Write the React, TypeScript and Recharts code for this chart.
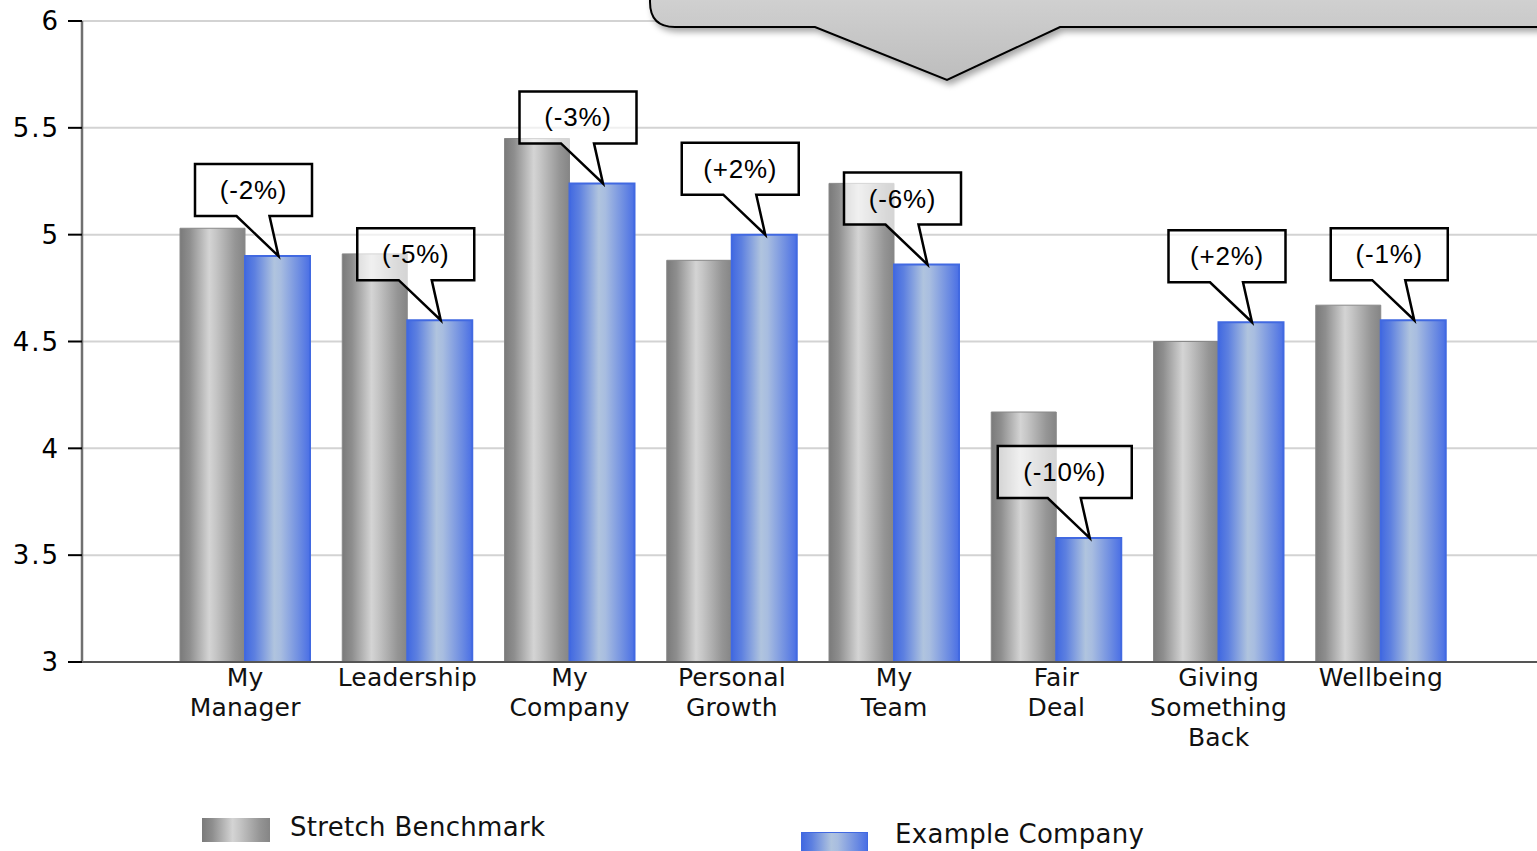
import React from 'react';
import { BarChart, Bar, XAxis, YAxis, CartesianGrid, LabelList } from 'recharts';

// ============================================
// Data
// ============================================

const CATEGORIES = [
  'My Manager',
  'Leadership',
  'My Company',
  'Personal Growth',
  'My Team',
  'Fair Deal',
  'Giving Something Back',
  'Wellbeing',
];

const BENCHMARK = [5.03, 4.91, 5.45, 4.88, 5.24, 4.17, 4.5, 4.67];
const COMPANY = [4.9, 4.6, 5.24, 5.0, 4.86, 3.58, 4.59, 4.6];
const CHANGE = ['(-2%)', '(-5%)', '(-3%)', '(+2%)', '(-6%)', '(-10%)', '(+2%)', '(-1%)'];

const Y_TICKS = [3, 3.5, 4, 4.5, 5, 5.5, 6];

const SERIES = ['Stretch Benchmark', 'Example Company'];

const rows = CATEGORIES.map((name, i) => ({
  name,
  benchmark: BENCHMARK[i],
  company: COMPANY[i],
  change: CHANGE[i],
}));

// ============================================
// Renderers
// ============================================

const GRAY_BG =
  'linear-gradient(90deg, #7a7a7a 0%, #8e8e8e 15%, #d4d4d4 45%, #c6c6c6 55%, #959595 85%, #858585 100%)';
const BLUE_BG =
  'linear-gradient(90deg, #4169e1 0%, #5d80e0 15%, #b0c4de 45%, #a8bde0 55%, #6a8ae2 85%, #4a6fe5 100%)';

function CategoryTick(props: any) {
  const { x, y, payload } = props;
  const words = String(payload.value).split(' ');
  return (
    <text
      x={x}
      y={y}
      textAnchor="middle"
      fontFamily="DejaVu Sans, Verdana, sans-serif"
      fontSize={25}
      letterSpacing={0.2}
      fill="#111"
    >
      {words.map((w, i) => (
        <tspan key={i} x={x} dy={i === 0 ? 16 : 30}>
          {w}
        </tspan>
      ))}
    </text>
  );
}

function Callout(props: any) {
  const { x, y, width, value } = props;
  if (x == null || y == null) return null;
  const label = String(value);
  const tipX = x + width / 2 + 1;
  const tipY = y;
  const boxW = 117 + (label.length - 5) * 17;
  const boxH = 52;
  const cx = tipX - 25;
  const left = cx - boxW / 2;
  const right = cx + boxW / 2;
  const bottom = tipY - 40;
  const top = bottom - boxH;
  const d = `M${left},${top} H${right} V${bottom} H${tipX - 9} L${tipX},${tipY} L${tipX - 42},${bottom} H${left} Z`;
  return (
    <g>
      <path d={d} fill="#fff" fillOpacity={0.65} stroke="#000" strokeWidth={2.5} strokeLinejoin="miter" />
      <text
        x={cx}
        y={top + boxH / 2 + 9}
        textAnchor="middle"
        fontFamily="Liberation Sans, Arial, sans-serif"
        fontSize={26}
        letterSpacing={0.8}
        fill="#000"
      >
        {label}
      </text>
    </g>
  );
}

// ============================================
// Component
// ============================================

export default function App() {
  return (
    <div style={{ position: 'absolute', left: 0, top: 0, width: 1537, height: 851, overflow: 'hidden', background: '#fff' }}>
      <BarChart
        width={1537}
        height={851}
        data={rows}
        margin={{ top: 21, right: 0, left: 0, bottom: 0 }}
        barGap={0}
        barSize={65}
      >
        <defs>
          <linearGradient id="grayBar" x1="0" y1="0" x2="1" y2="0">
            <stop offset="0%" stopColor="#7a7a7a" />
            <stop offset="15%" stopColor="#8e8e8e" />
            <stop offset="45%" stopColor="#d4d4d4" />
            <stop offset="55%" stopColor="#c6c6c6" />
            <stop offset="85%" stopColor="#959595" />
            <stop offset="100%" stopColor="#858585" />
          </linearGradient>
          <linearGradient id="blueBar" x1="0" y1="0" x2="1" y2="0">
            <stop offset="0%" stopColor="#4169e1" />
            <stop offset="15%" stopColor="#5d80e0" />
            <stop offset="45%" stopColor="#b0c4de" />
            <stop offset="55%" stopColor="#a8bde0" />
            <stop offset="85%" stopColor="#6a8ae2" />
            <stop offset="100%" stopColor="#4a6fe5" />
          </linearGradient>
        </defs>
        <CartesianGrid vertical={false} stroke="#d3d3d3" strokeWidth={2} />
        <XAxis
          dataKey="name"
          height={189}
          padding={{ left: 82, right: 75 }}
          axisLine={{ stroke: '#555', strokeWidth: 2 }}
          tickLine={false}
          interval={0}
          tick={<CategoryTick />}
        />
        <YAxis
          domain={[3, 6]}
          ticks={Y_TICKS}
          width={82}
          tickSize={14}
          tickMargin={8}
          axisLine={{ stroke: '#707070', strokeWidth: 2.5 }}
          tickLine={{ stroke: '#000', strokeWidth: 2 }}
          tick={{ fontSize: 26, fill: '#000', fontFamily: 'DejaVu Sans, Verdana, sans-serif', letterSpacing: 2 }}
        />
        <Bar dataKey="benchmark" fill="url(#grayBar)" stroke="#888" strokeWidth={1} isAnimationActive={false} />
        <Bar dataKey="company" fill="url(#blueBar)" stroke="#4169e1" strokeWidth={2} isAnimationActive={false}>
          <LabelList dataKey="change" content={<Callout />} />
        </Bar>
      </BarChart>

      {/* decorative top callout */}
      <svg width={1537} height={110} style={{ position: 'absolute', left: 0, top: 0, pointerEvents: 'none' }}>
        <defs>
          <linearGradient id="topCallout" x1="0" y1="0" x2="0" y2="1">
            <stop offset="0%" stopColor="#dedede" />
            <stop offset="100%" stopColor="#bdbdbd" />
          </linearGradient>
          <filter id="shadow" x="-10%" y="-50%" width="120%" height="200%">
            <feDropShadow dx="3" dy="4" stdDeviation="3" floodColor="#000" floodOpacity="0.35" />
          </filter>
        </defs>
        <path
          d="M650,-60 V2 Q650,27 675,27 H815 L947,80 L1060,27 H1560 V-60 Z"
          fill="url(#topCallout)"
          stroke="#000"
          strokeWidth={2}
          filter="url(#shadow)"
        />
      </svg>

      {/* legend */}
      <div style={{ position: 'absolute', left: 202, top: 818, width: 68, height: 24, background: GRAY_BG }} />
      <div
        style={{
          position: 'absolute',
          left: 290,
          top: 812,
          fontFamily: 'DejaVu Sans, Verdana, sans-serif',
          fontSize: 26,
          letterSpacing: 0.3,
          color: '#111',
          whiteSpace: 'nowrap',
        }}
      >
        {SERIES[0]}
      </div>
      <div style={{ position: 'absolute', left: 801, top: 832, width: 67, height: 24, background: BLUE_BG, border: '1px solid #4169e1', boxSizing: 'border-box' }} />
      <div
        style={{
          position: 'absolute',
          left: 895,
          top: 819,
          fontFamily: 'DejaVu Sans, Verdana, sans-serif',
          fontSize: 26,
          letterSpacing: 0.3,
          color: '#111',
          whiteSpace: 'nowrap',
        }}
      >
        {SERIES[1]}
      </div>
    </div>
  );
}
